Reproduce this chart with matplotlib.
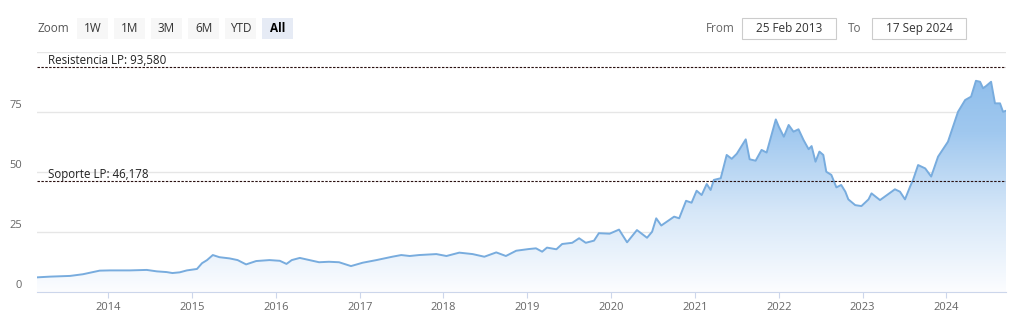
import numpy as np
import pandas as pd
import matplotlib
matplotlib.use('Agg')
import matplotlib.pyplot as plt
import matplotlib.dates as mdates
import matplotlib.transforms as mtransforms
from matplotlib.patches import Rectangle
from matplotlib.colors import LinearSegmentedColormap

plt.rcParams['font.family'] = ['Open Sans', 'DejaVu Sans']

# price series
dates = ['2013-02-25', '2013-04-22', '2013-07-19', '2013-09-13', '2013-10-23', '2013-11-25',
         '2014-01-09', '2014-04-05', '2014-06-18', '2014-08-01', '2014-09-13', '2014-10-08',
         '2014-11-09', '2014-12-10', '2015-01-23', '2015-02-14', '2015-03-08', '2015-04-02',
         '2015-05-01', '2015-06-14', '2015-07-19', '2015-08-25', '2015-10-08', '2015-12-05',
         '2016-01-19', '2016-02-17', '2016-03-11', '2016-04-15', '2016-05-27', '2016-07-08',
         '2016-08-20', '2016-10-03', '2016-11-24', '2017-01-14', '2017-03-15', '2017-05-23',
         '2017-07-01', '2017-08-07', '2017-09-17', '2017-12-01', '2018-01-14', '2018-03-11',
         '2018-05-08', '2018-06-28', '2018-08-19', '2018-09-30', '2018-11-14', '2019-01-08',
         '2019-02-08', '2019-03-07', '2019-03-28', '2019-05-08', '2019-06-02', '2019-07-16',
         '2019-08-15', '2019-09-13', '2019-10-19', '2019-11-09', '2019-12-26', '2020-02-05',
         '2020-03-11', '2020-04-23', '2020-06-06', '2020-06-28', '2020-07-16', '2020-08-07',
         '2020-09-03', '2020-10-02', '2020-10-24', '2020-11-23', '2020-12-17', '2021-01-08',
         '2021-01-30', '2021-02-21', '2021-03-10', '2021-03-24', '2021-04-23', '2021-05-19',
         '2021-06-10', '2021-07-02', '2021-08-10', '2021-08-27', '2021-09-22', '2021-10-18',
         '2021-11-09', '2021-12-19', '2022-01-01', '2022-01-23', '2022-02-13', '2022-03-06',
         '2022-03-28', '2022-04-19', '2022-05-11', '2022-05-24', '2022-06-10', '2022-06-27',
         '2022-07-14', '2022-07-27', '2022-08-18', '2022-09-09', '2022-09-30', '2022-10-18',
         '2022-10-31', '2022-11-30', '2022-12-27', '2023-01-27', '2023-02-09', '2023-03-18',
         '2023-05-22', '2023-06-13', '2023-07-05', '2023-07-27', '2023-08-09', '2023-08-31',
         '2023-10-01', '2023-10-27', '2023-11-26', '2024-01-08', '2024-02-21', '2024-03-23',
         '2024-04-18', '2024-05-09', '2024-05-27', '2024-06-09', '2024-06-22', '2024-07-14',
         '2024-07-31', '2024-08-22', '2024-09-04', '2024-09-17']
values = [6.1, 6.4, 6.7, 7.4, 8.2, 8.9,
          9.0, 9.0, 9.2, 8.6, 8.3, 7.9,
          8.2, 9.0, 9.6, 12.0, 13.3, 15.4,
          14.5, 14.0, 13.3, 11.5, 12.9, 13.3,
          13.0, 11.7, 13.3, 14.2, 13.3, 12.4,
          12.6, 12.4, 10.8, 12.2, 13.3, 14.7,
          15.4, 15.0, 15.4, 15.8, 15.0, 16.4,
          15.8, 14.7, 16.5, 15.0, 17.2, 17.9,
          18.2, 16.8, 18.5, 17.8, 20.0, 20.5,
          22.4, 20.5, 21.4, 24.5, 24.3, 26.0,
          20.7, 25.8, 22.6, 25.1, 30.7, 27.7,
          29.5, 31.4, 30.7, 38.0, 37.2, 42.2,
          40.4, 45.0, 42.5, 46.7, 47.4, 57.1,
          55.5, 57.6, 63.6, 55.3, 54.7, 59.2,
          58.1, 71.9, 68.9, 64.7, 69.6, 66.8,
          67.8, 63.3, 59.5, 60.8, 54.3, 58.5,
          57.1, 50.1, 48.8, 43.6, 44.6, 41.8,
          38.6, 36.2, 35.8, 38.6, 41.1, 38.3,
          42.8, 41.8, 38.6, 43.9, 46.7, 52.9,
          51.5, 48.1, 56.4, 62.6, 75.1, 80.0,
          81.4, 88.0, 87.6, 84.9, 85.8, 87.6,
          78.6, 78.6, 75.1, 75.5]

resistencia = 93.580
soporte = 46.178
y_labels = [0, 25, 50, 75]
years = list(range(2014, 2025))
zoom_buttons = ['1W', '1M', '3M', '6M', 'YTD', 'All']
date_from = '25 Feb 2013'
date_to = '17 Sep 2024'

W, H = 1016, 326
fig = plt.figure(figsize=(W / 100, H / 100), dpi=100)
# pixel coords, origin top-left
px = mtransforms.Affine2D().scale(1 / W, -1 / H).translate(0, 1) + fig.transFigure

ax = fig.add_axes([37 / W, 34 / H, 969 / W, 240 / H])
x = mdates.date2num(pd.to_datetime(dates))
y = np.array(values)
ax.set_xlim(x[0], x[-1])
ax.set_ylim(0, 100)

# gradient area
cmap = LinearSegmentedColormap.from_list('area', ['#fcfdff', '#d6e7f8', '#a0c8ef', '#88baea'])
grad = np.linspace(1, 0, 256).reshape(-1, 1)
im = ax.imshow(grad, extent=[x[0], x[-1], 0, 100], origin='upper', aspect='auto',
               cmap=cmap, zorder=1)
poly = ax.fill_between(x, y, 0, color='none', lw=0)
im.set_clip_path(poly.get_paths()[0], ax.transData)
ax.plot(x, y, color='#78acde', lw=1.4, zorder=3, solid_joinstyle='round')

# grid
ax.set_yticks([25, 50, 75, 100])
ax.tick_params(axis='y', length=0, labelleft=False)
ax.grid(axis='y', color='#e6e6e6', lw=1, zorder=0)
ax.set_axisbelow(True)
for s in ['top', 'left', 'right']:
    ax.spines[s].set_visible(False)
ax.spines['bottom'].set_color('#ccd6eb')
ax.spines['bottom'].set_zorder(4)

for v in y_labels:
    ax.annotate(str(v), xy=(0, v), xycoords=('axes fraction', 'data'),
                xytext=(-15 * 0.72, 6 * 0.72), textcoords='offset points',
                ha='right', va='center', fontsize=8, color='#666666')

ax.set_xticks(mdates.date2num(pd.to_datetime([f'{yr}-01-01' for yr in years])))
ax.set_xticklabels([str(yr) for yr in years])
ax.tick_params(axis='x', length=4, color='#ccd6eb', labelsize=8, labelcolor='#666666', pad=3)

# support / resistance
for lvl, lab in [(resistencia, 'Resistencia LP: 93,580'), (soporte, 'Soporte LP: 46,178')]:
    ax.axhline(lvl, color='#2a1010', ls=(0, (2.2, 1.3)), lw=0.8, zorder=5)
    ax.annotate(lab, xy=(11 / 969, lvl), xycoords=('axes fraction', 'data'),
                xytext=(0, 2.5), textcoords='offset points',
                ha='left', va='baseline', fontsize=8.3, color='#222222', zorder=6)

# range selector
fig.text(38, 28, 'Zoom', transform=px, fontsize=8.5, color='#555555', va='center', ha='left')
for i, lab in enumerate(zoom_buttons):
    bx = 77 + i * 37
    sel = lab == 'All'
    fig.patches.append(Rectangle((bx, 39), 31, -21, transform=px,
                                 facecolor='#e6ebf5' if sel else '#f7f7f7', edgecolor='none'))
    fig.text(bx + 15.5, 28.5, lab, transform=px, fontsize=8.5, ha='center', va='center',
             color='#000000' if sel else '#333333', fontweight='bold' if sel else 'normal')

fig.text(706, 28, 'From', transform=px, fontsize=8.5, color='#666666', va='center', ha='left')
fig.text(848, 28, 'To', transform=px, fontsize=8.5, color='#666666', va='center', ha='left')
for bx, lab in [(742, date_from), (872, date_to)]:
    fig.patches.append(Rectangle((bx, 39), 94, -21, transform=px,
                                 facecolor='white', edgecolor='#cccccc', lw=0.8))
    fig.text(bx + 47, 28.5, lab, transform=px, fontsize=8.5, ha='center', va='center', color='#333333')

fig.savefig('out.png', dpi=100)
